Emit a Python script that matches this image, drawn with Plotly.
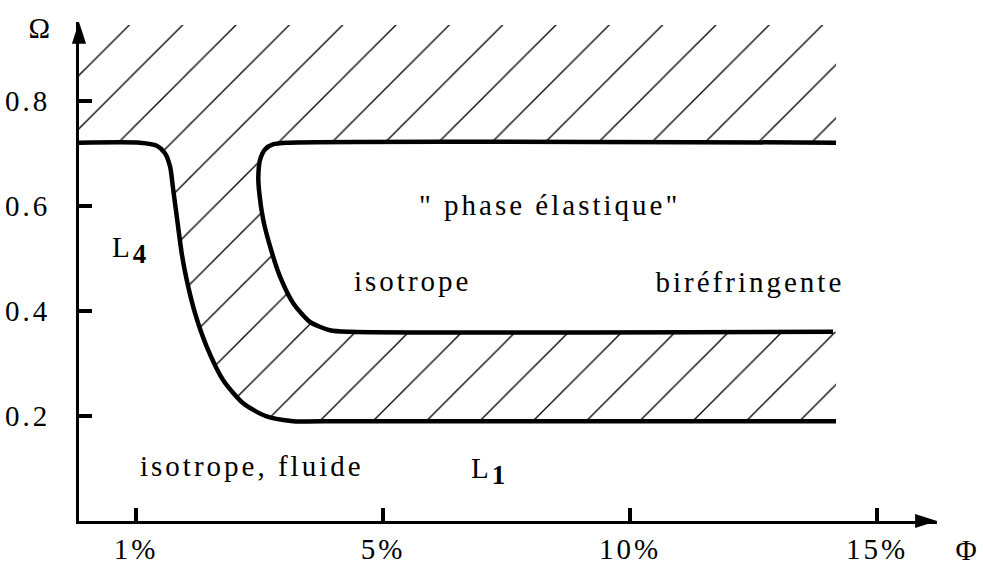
import plotly.graph_objects as go

# Φ axis: tick positions are equally spaced categories
phi_tick_pos = [1, 2, 3, 4]
phi_tick_text = ["1%", "5%", "10%", "15%"]
omega_tick_vals = [0.2, 0.4, 0.6, 0.8]
omega_tick_text = ["0.2", "0.4", "0.6", "0.8"]

# Boundary L4 (fluid / hatched) : position on Φ axis, Ω value
L4_x = [0.769, 1.016, 1.084, 1.117, 1.138, 1.149, 1.165, 1.185, 1.205, 1.239,
        1.286, 1.353, 1.434, 1.529, 1.637, 1.826, 3.834]
L4_y = [0.720, 0.720, 0.714, 0.700, 0.674, 0.636, 0.579, 0.509, 0.459, 0.395,
        0.332, 0.268, 0.224, 0.199, 0.190, 0.190, 0.190]

# Boundary of the "phase élastique"
inner_x = [3.834, 1.610, 1.556, 1.522, 1.502, 1.495, 1.499, 1.515, 1.543, 1.583,
           1.637, 1.704, 1.785, 1.866, 3.822]
inner_y = [0.720, 0.720, 0.717, 0.707, 0.687, 0.655, 0.624, 0.573, 0.522, 0.465,
           0.414, 0.379, 0.363, 0.360, 0.360]

x_left = 0.769
x_right = 3.834
x_end = 4.243
y_top_hatch = 0.944
y_end = 0.9496

FONT = "Liberation Serif, Times New Roman, Times, DejaVu Serif, serif"

fig = go.Figure()

# hatched region (one C-shaped polygon built from the boundaries)
poly_x = [x_right, x_right, x_left] + L4_x + [x_right] + inner_x[::-1]
poly_y = [0.72, y_top_hatch, y_top_hatch] + L4_y + [0.36] + inner_y[::-1]
fig.add_trace(go.Scatter(
    x=poly_x, y=poly_y, mode="lines", line=dict(width=0, color="rgba(0,0,0,0)"),
    fill="toself", fillcolor="rgba(0,0,0,0)",
    fillpattern=dict(shape="/", size=37.7, solidity=0.035, fgcolor="black",
                     bgcolor="rgba(0,0,0,0)", fillmode="replace"),
    hoverinfo="skip", showlegend=False))

for xs, ys in [(L4_x, L4_y), (inner_x, inner_y)]:
    fig.add_trace(go.Scatter(
        x=xs, y=ys, mode="lines",
        line=dict(color="black", width=4.5, shape="spline", smoothing=0.7),
        hoverinfo="skip", showlegend=False))

# axis arrowheads
fig.add_trace(go.Scatter(
    x=[x_left, x_end], y=[y_end, 0], mode="markers",
    marker=dict(symbol="arrow", size=23, angle=[0, 90], color="black",
                line=dict(width=0)),
    cliponaxis=False, hoverinfo="skip", showlegend=False))

ann_font = dict(family=FONT, size=29, color="black")
SUB = '<sub><span style="font-size:27px"><b>{}</b></span></sub>'
labels = [
    ('" phase élastique"', 2.672, 0.601),
    ("isotrope", 2.121, 0.457),
    ("biréfringente", 3.486, 0.455),
    ("isotrope, fluide", 1.470, 0.105),
    ("L" + SUB.format("4"), 0.976, 0.515),
    ("L" + SUB.format("1"), 2.433, 0.096),
]
for txt, x, y in labels:
    fig.add_annotation(text=txt, x=x, y=y, xref="x", yref="y", showarrow=False,
                       font=ann_font, xanchor="center", yanchor="middle")

# axis names (outside the plotting area -> paper coordinates)
fig.add_annotation(text="Ω", x=-0.0443, y=0.988, xref="paper", yref="paper",
                   showarrow=False, font=ann_font, xanchor="center", yanchor="middle")
fig.add_annotation(text="Φ", x=1.036, y=-0.058, xref="paper", yref="paper",
                   showarrow=False, font=ann_font, xanchor="center", yanchor="middle")

axis_common = dict(showline=True, linewidth=3, linecolor="black", ticks="inside",
                   ticklen=13, tickwidth=4, tickcolor="black", showgrid=False,
                   zeroline=False, automargin=False,
                   tickfont=dict(family=FONT, size=29, color="black"))

fig.update_layout(
    width=983, height=563,
    margin=dict(l=79, r=46, t=22, b=42),
    paper_bgcolor="white", plot_bgcolor="white",
    xaxis=dict(range=[x_left, x_end], tickvals=phi_tick_pos, ticktext=phi_tick_text,
               ticklabelstandoff=0, **axis_common),
    yaxis=dict(range=[0, y_end], tickvals=omega_tick_vals, ticktext=omega_tick_text,
               ticklabelstandoff=20, **axis_common),
    showlegend=False,
)

post = ("document.body.style.margin='0';document.body.style.overflow='hidden';"
        "document.querySelectorAll('text').forEach(function(t){t.style.letterSpacing='3px';});")
fig.write_html("out.html", post_script=post, config={"displayModeBar": False})
